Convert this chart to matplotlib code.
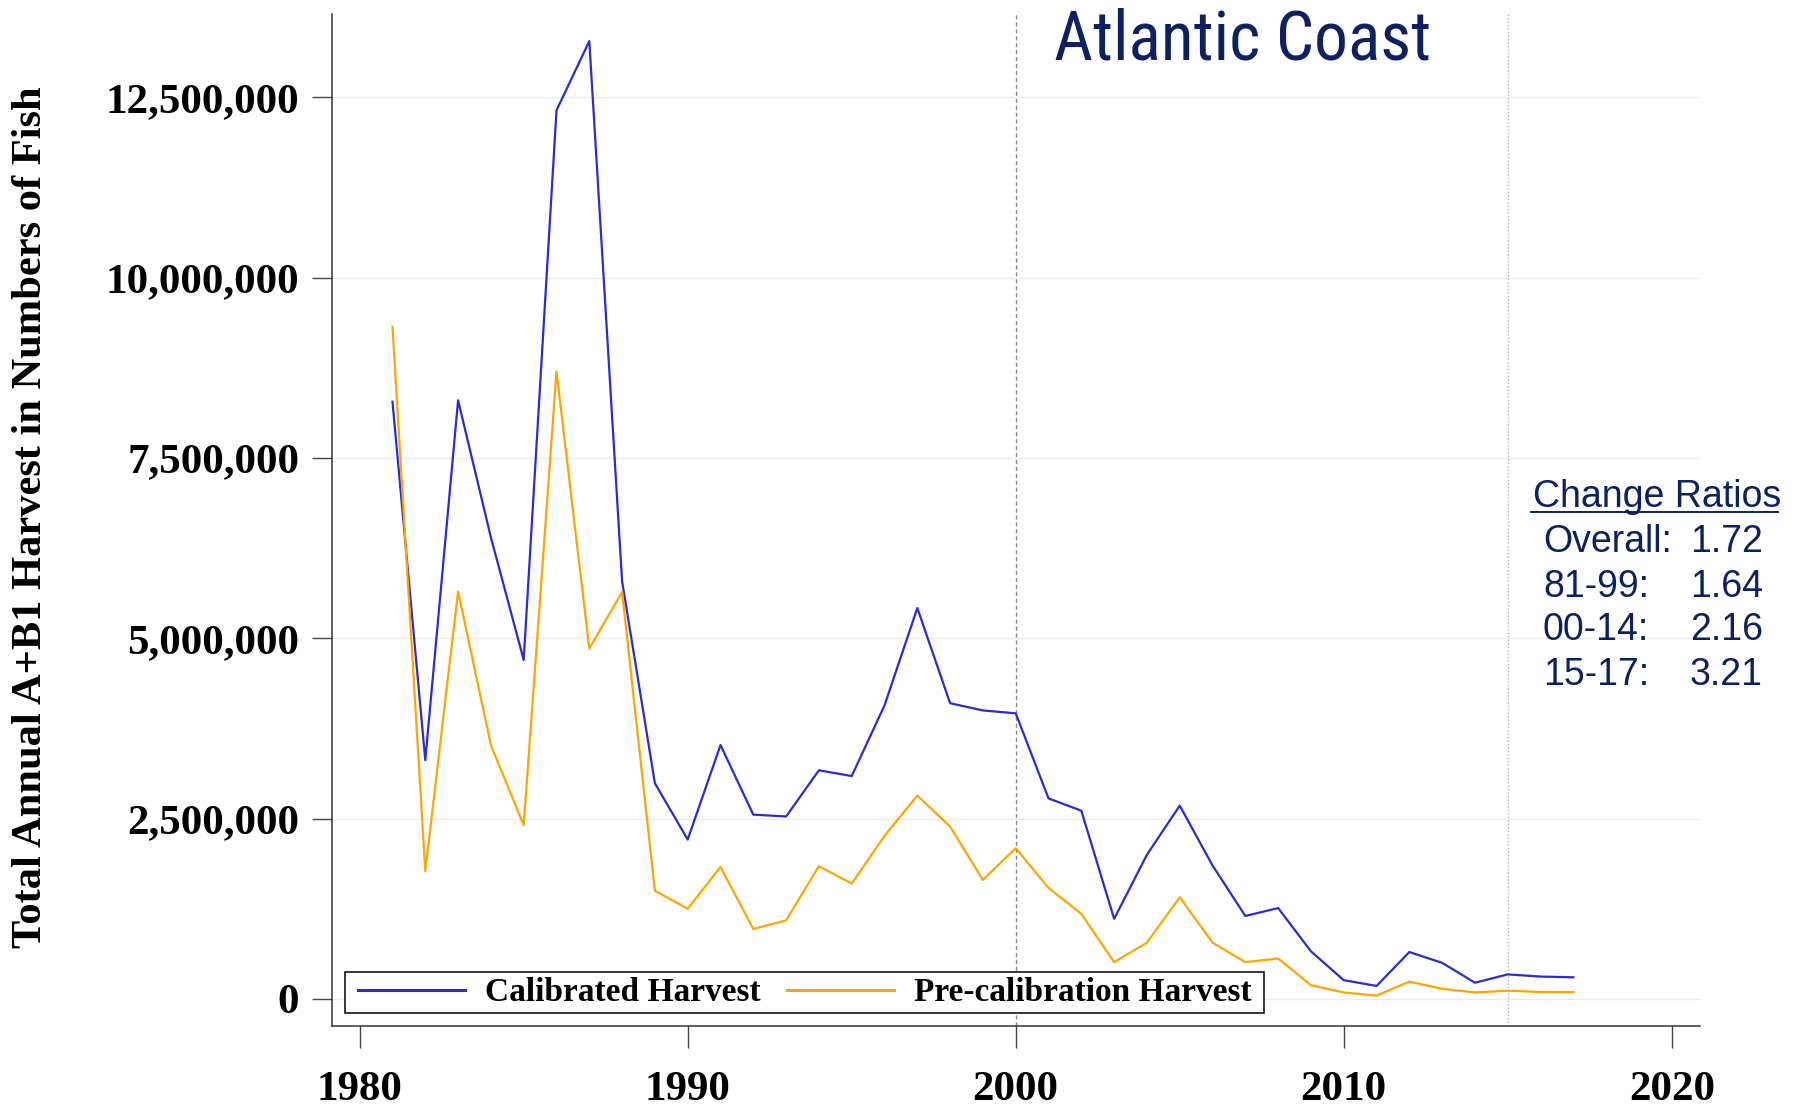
import matplotlib
matplotlib.use("Agg")
import matplotlib.pyplot as plt
from matplotlib.ticker import FuncFormatter
from matplotlib.lines import Line2D
from matplotlib.path import Path
from matplotlib import font_manager as fm

# ---------------- data ----------------
years = list(range(1981, 2018))
calibrated = [8280000, 3310000, 8300000, 6400000, 4700000, 12320000, 13280000,
              5790000, 2990000, 2210000, 3520000, 2555000, 2530000, 3170000,
              3090000, 4070000, 5420000, 4100000, 4000000, 3960000, 2780000,
              2610000, 1110000, 2000000, 2680000, 1850000, 1150000, 1260000,
              660000, 260000, 180000, 650000, 500000, 225000, 340000, 310000,
              300000]
precal = [9320000, 1770000, 5650000, 3520000, 2410000, 8700000, 4860000,
          5640000, 1500000, 1250000, 1830000, 970000, 1090000, 1840000,
          1600000, 2260000, 2820000, 2390000, 1650000, 2090000, 1540000,
          1180000, 510000, 780000, 1410000, 780000, 510000, 560000,
          190000, 90000, 45000, 240000, 140000, 90000, 114000, 96000, 95000]
series_labels = ["Calibrated Harvest", "Pre-calibration Harvest"]
yticks = [0, 2500000, 5000000, 7500000, 10000000, 12500000]
xticks = [1980, 1990, 2000, 2010, 2020]
period_lines = [2000, 2015]
title = "Atlantic Coast"
ylabel = "Total Annual A+B1 Harvest in Numbers of Fish"
ratio_header = "Change Ratios"
ratio_names = ["Overall:", "81-99:", "00-14:", "15-17:"]
ratio_values = ["1.72", "1.64", "2.16", "3.21"]

# ---------------- figure ----------------
W, H = 1796, 1107
fig = plt.figure(figsize=(W / 100, H / 100), dpi=100)
fig.patch.set_facecolor("white")


def fx(x):
    return x / W


def fy(y):
    return 1 - y / H


ax_l, ax_r, ax_t, ax_b = 331.8, 1700.0, 13.6, 1026.4
ax = fig.add_axes([fx(ax_l), fy(ax_b), fx(ax_r) - fx(ax_l), fy(ax_t) - fy(ax_b)])

navy = "#0c2161"
serif = "Liberation Serif"

ax.plot(years, calibrated, color="#2b2bd6", lw=1.6, label=series_labels[0], zorder=3)
ax.plot(years, precal, color="#ffa500", lw=1.6, label=series_labels[1], zorder=3)

ax.axvline(period_lines[0], color="#8a8a8a", lw=1.0, ls=(0, (3, 2)), zorder=2)
ax.axvline(period_lines[1], color="#b0b0b0", lw=1.0, ls=(0, (1, 1.5)), zorder=2)

ax.set_xlim(1979.15, 2020.86)
ax.set_ylim(-381000, 13662000)
ax.set_xticks(xticks)
ax.set_yticks(yticks)
ax.yaxis.set_major_formatter(FuncFormatter(lambda v, p: f"{v:,.0f}"))
ax.yaxis.grid(True, color="#ebebeb", lw=1.0)
ax.set_axisbelow(True)

for s in ["top", "right"]:
    ax.spines[s].set_visible(False)
for s in ["left", "bottom"]:
    ax.spines[s].set_color("#333333")
    ax.spines[s].set_linewidth(1.1)

ax.tick_params(axis="x", direction="out", length=15.8, width=1.0, color="#444444",
               pad=16, labelsize=31)
ax.tick_params(axis="y", direction="out", length=14.4, width=1.0, color="#444444",
               pad=9, labelsize=31)
for lab in ax.get_xticklabels() + ax.get_yticklabels():
    lab.set_fontfamily(serif)
    lab.set_fontweight("bold")

ax.set_ylabel(ylabel, fontsize=30.6, fontweight="bold", fontfamily=serif)
ax.yaxis.label.set_va("center")
ax.yaxis.set_label_coords(fx(31), fy(517), transform=fig.transFigure)

leg = ax.legend(loc="lower left", bbox_to_anchor=((353 - ax_l) / (ax_r - ax_l), 0.0129),
                borderaxespad=0, ncol=2,
                prop={"family": serif, "weight": "bold", "size": 24},
                handlelength=3.2, handletextpad=0.6, columnspacing=0.8,
                borderpad=0.15, fancybox=False, framealpha=1, edgecolor="black")
leg.get_frame().set_linewidth(1.1)


def wide_box(x0, y0, width, height, mutation_size):
    dx = 0.24 * mutation_size
    verts = [(x0 - dx, y0), (x0 + width + dx, y0), (x0 + width + dx, y0 + height),
             (x0 - dx, y0 + height), (x0 - dx, y0)]
    return Path(verts, [Path.MOVETO, Path.LINETO, Path.LINETO, Path.LINETO,
                        Path.CLOSEPOLY])


leg.get_frame().set_boxstyle(wide_box)
for h in leg.get_lines():
    h.set_linewidth(2.2)


# ---- title font: prefer a narrow sans like the original ----
def pick_narrow():
    cands = [("Liberation Sans Narrow", "normal"), ("Arial Narrow", "normal"),
             ("Roboto Condensed", "normal"), ("Noto Sans", "condensed"),
             ("Open Sans", "condensed"), ("Liberation Sans", "normal")]
    for fam, stretch in cands:
        try:
            path = fm.findfont(fm.FontProperties(family=fam, stretch=stretch),
                               fallback_to_default=False)
        except Exception:
            continue
        if stretch == "condensed" and "ondensed" not in path:
            continue
        return fam, stretch
    return "DejaVu Sans", "normal"


tfam, tstretch = pick_narrow()
ttl = fig.text(fx(1054), fy(59), title, fontsize=54, color=navy,
               family=tfam, fontstretch=tstretch, ha="left", va="baseline")
fig.canvas.draw()
tw = ttl.get_window_extent(fig.canvas.get_renderer()).width
if tw > 380:
    ttl.set_fontsize(54 * 377 / tw)

# change ratios block
sans = ["Liberation Sans", "DejaVu Sans"]
fig.text(fx(1532.7), fy(506.7), ratio_header, fontsize=27, color=navy, family=sans,
         ha="left", va="baseline")
fig.add_artist(Line2D([fx(1531), fx(1778)], [fy(512), fy(512)], color=navy, lw=1.4,
                      transform=fig.transFigure))
baselines = [551.7, 596.7, 640.5, 685.0]
for name, val, b in zip(ratio_names, ratio_values, baselines):
    fig.text(fx(1543), fy(b), name, fontsize=27, color=navy, family=sans,
             ha="left", va="baseline")
    fig.text(fx(1690), fy(b), val, fontsize=27, color=navy, family=sans,
             ha="left", va="baseline")

fig.savefig("out.png", dpi=100)
